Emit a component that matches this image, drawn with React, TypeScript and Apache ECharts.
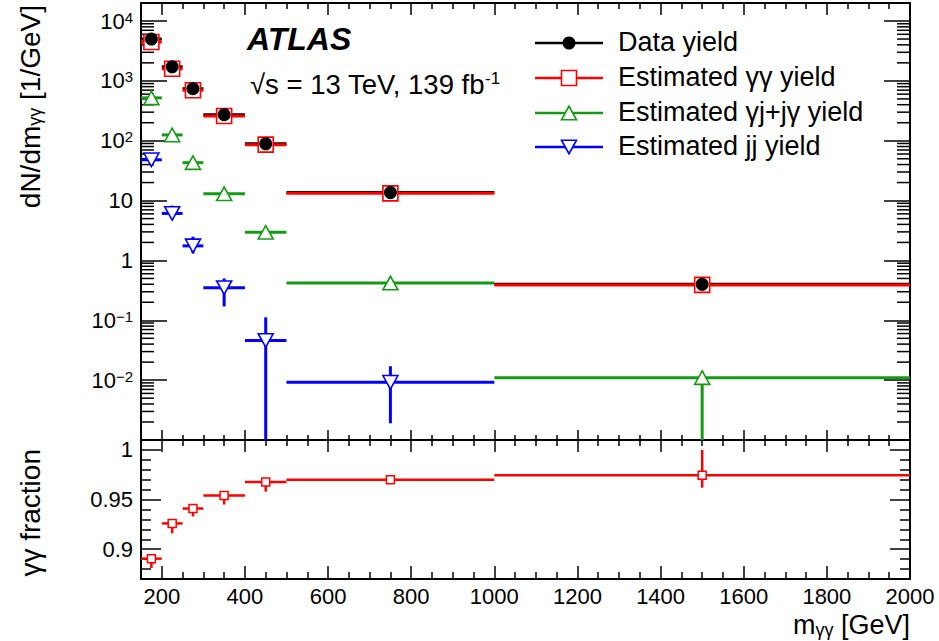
import React, { useEffect, useRef } from "react";
import * as echarts from "echarts";

const FONT = "'Liberation Sans', Arial, Helvetica, sans-serif";

// ---- bins (m_gg in GeV) ----
const binLow = [150, 200, 250, 300, 400, 500, 1000];
const binHigh = [200, 250, 300, 400, 500, 1000, 2000];
const binCenter = [175, 225, 275, 350, 450, 750, 1500];

// ---- yields (1/GeV) ----
const dataYield = [5000, 1720, 740, 272, 89, 13.6, 0.4];
const dataErr = [25, 14, 8, 3, 1.3, 0.2, 0.02];

const ggYield = [4450, 1590, 697, 259, 86, 13.2, 0.39];
const ggErrLow = [60, 30, 14, 6, 2, 0.3, 0.02];
const ggErrHigh = [60, 30, 14, 6, 2, 0.3, 0.02];

const gjYield = [520, 125, 43, 13.0, 2.95, 0.42, 0.011];
const gjErrLow = [20, 8, 3, 1, 0.25, 0.03, 0.011];
const gjErrHigh = [20, 8, 3, 1, 0.25, 0.03, 0.003];

const jjYield = [48, 6.1, 1.75, 0.35, 0.046, 0.0092];
const jjErrLow = [5, 1.2, 0.44, 0.18, 0.046, 0.0073];
const jjErrHigh = [6, 2.15, 0.75, 0.15, 0.066, 0.0079];

// ---- gamma-gamma fraction ----
const fraction = [0.8905, 0.926, 0.941, 0.954, 0.9677, 0.97, 0.9745];
const fracErrLow = [0.0095, 0.01, 0.008, 0.009, 0.0097, 0.002, 0.0125];
const fracErrHigh = [0.004, 0.004, 0.004, 0.003, 0.003, 0.002, 0.0255];

// ---- ticks / labels ----
const xTickValues = [200, 400, 600, 800, 1000, 1200, 1400, 1600, 1800, 2000];
const xTickLabels = ["200", "400", "600", "800", "1000", "1200", "1400", "1600", "1800", "2000"];
const yTickValues = [1e-2, 1e-1, 1, 10, 100, 1000, 10000];
const yTickLabels = ["10{s|\u22122}", "10{s|\u22121}", "1", "10", "10{s|2}", "10{s|3}", "10{s|4}"];
const fracTickValues = [0.9, 0.95, 1];
const fracTickLabels = ["0.9", "0.95", "1"];
const logDecades = [1e-3, 1e-2, 1e-1, 1, 10, 100, 1000, 10000];
const logMinorMult = [2, 3, 4, 5, 6, 7, 8, 9];

const legendNames = ["Data yield", "Estimated \u03b3\u03b3 yield", "Estimated \u03b3j+j\u03b3 yield", "Estimated jj yield"];

const X_MIN = 150, X_MAX = 2000;
const Y_MIN = 1e-3, Y_MAX = 2e4;
const F_MIN = 0.87, F_MAX = 1.01;

const C_DATA = "#000000";
const C_GG = "#ff0000";
const C_GJ = "#169a16";
const C_JJ = "#0000ff";

const TICK_FS = 22;
const TITLE_FS = 28;

function marker(kind: string, cx: number, cy: number, s: number, color: string, lw: number): any {
  if (kind === "circle") {
    return { type: "circle", shape: { cx, cy, r: s / 2 }, style: { fill: color, stroke: color, lineWidth: 0 } };
  }
  if (kind === "square") {
    return { type: "rect", shape: { x: cx - s / 2, y: cy - s / 2, width: s, height: s }, style: { fill: "#fff", stroke: color, lineWidth: lw } };
  }
  const h = s * 0.9;
  if (kind === "triUp") {
    return { type: "polygon", shape: { points: [[cx, cy - h / 2], [cx - s / 2, cy + h / 2], [cx + s / 2, cy + h / 2]] }, style: { fill: "#fff", stroke: color, lineWidth: lw } };
  }
  return { type: "polygon", shape: { points: [[cx - s / 2, cy - h / 2], [cx + s / 2, cy - h / 2], [cx, cy + h / 2]] }, style: { fill: "#fff", stroke: color, lineWidth: lw } };
}

function errSeries(
  id: string, kind: string, color: string, values: number[], eLo: number[], eHi: number[],
  xIdx: number, yIdx: number, floor: number, part: string, size: number, lw: number, mlw: number
): any {
  const data = values.map((v, i) => [binCenter[i], v, binLow[i], binHigh[i], v - eLo[i], v + eHi[i]]);
  return {
    type: "custom",
    id,
    xAxisIndex: xIdx,
    yAxisIndex: yIdx,
    silent: true,
    encode: { x: 0, y: 1 },
    data,
    renderItem: (params: any, api: any) => {
      const cs = params.coordSys;
      const xc = api.value(0) as number;
      const v = api.value(1) as number;
      const p = api.coord([xc, v]);
      if (part === "marks") return marker(kind, p[0], p[1], size, color, mlw);
      const xl = api.coord([api.value(2), v])[0];
      const xh = api.coord([api.value(3), v])[0];
      const lo = api.value(4) as number;
      const hi = api.value(5) as number;
      const bottom = cs.y + cs.height;
      const yLo = lo > floor ? Math.min(api.coord([xc, lo])[1], bottom) : bottom;
      const yHi = Math.max(api.coord([xc, hi])[1], cs.y);
      return {
        type: "group",
        children: [
          { type: "line", shape: { x1: xl, y1: p[1], x2: xh, y2: p[1] }, style: { stroke: color, lineWidth: lw } },
          { type: "line", shape: { x1: p[0], y1: yHi, x2: p[0], y2: yLo }, style: { stroke: color, lineWidth: lw } },
        ],
      };
    },
  };
}

function xAxisCfg(grid: number, pos: string, major: number, minor: number, labels: boolean): any {
  return {
    type: "value",
    gridIndex: grid,
    position: pos,
    min: X_MIN,
    max: X_MAX,
    splitNumber: 9,
    axisLine: { show: true, onZero: false, lineStyle: { color: "#000", width: 2 } },
    axisTick: { show: true, inside: true, length: major, lineStyle: { color: "#000", width: 1.5 } },
    minorTick: { show: true, splitNumber: 4, length: minor, lineStyle: { color: "#000", width: 1.5 } },
    splitLine: { show: false },
    axisLabel: {
      show: labels,
      margin: 6,
      color: "#000",
      fontSize: TICK_FS,
      fontFamily: FONT,
      formatter: (v: number) => {
        const i = xTickValues.findIndex((t) => Math.abs(t - v) < 1e-6);
        return i >= 0 ? xTickLabels[i] : "";
      },
    },
  };
}

function logYCfg(pos: string, labels: boolean): any {
  return {
    type: "log",
    logBase: 10,
    gridIndex: 0,
    position: pos,
    min: Y_MIN,
    max: Y_MAX,
    axisLine: { show: true, onZero: false, lineStyle: { color: "#000", width: 2 } },
    axisTick: { show: true, inside: true, length: 26, lineStyle: { color: "#000", width: 1.5 } },
    splitLine: { show: false },
    axisLabel: {
      show: labels,
      margin: 8,
      color: "#000",
      fontSize: TICK_FS,
      fontFamily: FONT,
      formatter: (v: number) => {
        const i = yTickValues.findIndex((t) => Math.abs(v / t - 1) < 1e-6);
        return i >= 0 ? yTickLabels[i] : "";
      },
      rich: {
        s: { fontSize: 15, fontFamily: FONT, color: "#000", verticalAlign: "top", padding: [0, 0, 8, 0] },
      },
    },
  };
}

function fracYCfg(pos: string, labels: boolean): any {
  return {
    type: "value",
    gridIndex: 1,
    position: pos,
    min: F_MIN,
    max: F_MAX,
    splitNumber: 3,
    axisLine: { show: true, onZero: false, lineStyle: { color: "#000", width: 2 } },
    axisTick: { show: true, inside: true, length: 20, lineStyle: { color: "#000", width: 1.5 } },
    minorTick: { show: true, splitNumber: 5, length: 10, lineStyle: { color: "#000", width: 1.5 } },
    splitLine: { show: false },
    axisLabel: {
      show: labels,
      margin: 8,
      color: "#000",
      fontSize: TICK_FS,
      fontFamily: FONT,
      formatter: (v: number) => {
        const i = fracTickValues.findIndex((t) => Math.abs(t - v) < 1e-6);
        return i >= 0 ? fracTickLabels[i] : "";
      },
    },
  };
}

export default function App() {
  const ref = useRef<HTMLDivElement>(null);

  useEffect(() => {
    if (!ref.current) return;
    const chart = echarts.init(ref.current, undefined, { renderer: "svg" });

    const minorVals: number[] = [];
    logDecades.forEach((d) => logMinorMult.forEach((m) => {
      const v = m * d;
      if (v > Y_MIN && v < Y_MAX) minorVals.push(v);
    }));

    const minorTickSeries = {
      type: "custom",
      id: "logMinor",
      xAxisIndex: 0,
      yAxisIndex: 0,
      silent: true,
      encode: { x: 0, y: 1 },
      data: minorVals.map((v) => [X_MIN, v]),
      renderItem: (params: any, api: any) => {
        const cs = params.coordSys;
        const y = api.coord([X_MIN, api.value(1)])[1];
        return {
          type: "group",
          children: [
            { type: "line", shape: { x1: cs.x, y1: y, x2: cs.x + 13, y2: y }, style: { stroke: "#000", lineWidth: 1.5 } },
            { type: "line", shape: { x1: cs.x + cs.width - 13, y1: y, x2: cs.x + cs.width, y2: y }, style: { stroke: "#000", lineWidth: 1.5 } },
          ],
        };
      },
    };

    // legend drawn as graphic
    const legRowsY = [43, 78, 113, 147];
    const legColors = [C_DATA, C_GG, C_GJ, C_JJ];
    const legKinds = ["circle", "square", "triUp", "triDown"];
    const legSizes = [13, 15, 15, 15];
    const legendChildren: any[] = [];
    legendNames.forEach((name, i) => {
      const y = legRowsY[i];
      legendChildren.push({ type: "line", shape: { x1: 535, y1: y, x2: 603, y2: y }, style: { stroke: legColors[i], lineWidth: 2.5 } });
      legendChildren.push(marker(legKinds[i], 569, y, legSizes[i], legColors[i], 1.6));
      legendChildren.push({
        type: "text", x: 618, y: y - 1,
        style: { text: name, fontSize: 27, fontFamily: FONT, fill: "#000", align: "left", verticalAlign: "middle" },
      });
    });

    const option: any = {
      animation: false,
      backgroundColor: "#fff",
      grid: [
        { left: 141, top: 3, width: 769, height: 437, containLabel: false },
        { left: 141, top: 440, width: 769, height: 139, containLabel: false },
      ],
      xAxis: [
        xAxisCfg(0, "bottom", 10, 5, false),
        xAxisCfg(0, "top", 12, 6, false),
        xAxisCfg(1, "bottom", 13, 7, true),
        xAxisCfg(1, "top", 12, 6, false),
      ],
      yAxis: [logYCfg("left", true), logYCfg("right", false), fracYCfg("left", true), fracYCfg("right", false)],
      series: [
        minorTickSeries,
        errSeries("gjBars", "triUp", C_GJ, gjYield, gjErrLow, gjErrHigh, 0, 0, Y_MIN, "bars", 15, 3, 1.6),
        errSeries("gjMarks", "triUp", C_GJ, gjYield, gjErrLow, gjErrHigh, 0, 0, Y_MIN, "marks", 15, 3, 1.6),
        errSeries("jjBars", "triDown", C_JJ, jjYield, jjErrLow, jjErrHigh, 0, 0, Y_MIN, "bars", 15, 3, 1.6),
        errSeries("jjMarks", "triDown", C_JJ, jjYield, jjErrLow, jjErrHigh, 0, 0, Y_MIN, "marks", 15, 3, 1.6),
        errSeries("dataBars", "circle", C_DATA, dataYield, dataErr, dataErr, 0, 0, Y_MIN, "bars", 13, 3, 1.6),
        errSeries("ggBars", "square", C_GG, ggYield, ggErrLow, ggErrHigh, 0, 0, Y_MIN, "bars", 15, 3, 1.6),
        errSeries("ggMarks", "square", C_GG, ggYield, ggErrLow, ggErrHigh, 0, 0, Y_MIN, "marks", 15, 3, 1.6),
        errSeries("dataMarks", "circle", C_DATA, dataYield, dataErr, dataErr, 0, 0, Y_MIN, "marks", 13, 3, 1.6),
        errSeries("fracBars", "square", C_GG, fraction, fracErrLow, fracErrHigh, 2, 2, F_MIN, "bars", 8, 2.5, 1.5),
        errSeries("fracMarks", "square", C_GG, fraction, fracErrLow, fracErrHigh, 2, 2, F_MIN, "marks", 8, 2.5, 1.5),
      ],
      graphic: [
        {
          type: "text", x: 247, y: 39,
          style: { text: "ATLAS", fontSize: 32, fontWeight: "bold", fontStyle: "italic", fontFamily: FONT, fill: "#000", align: "left", verticalAlign: "middle" },
        },
        {
          type: "text", x: 250, y: 84,
          style: {
            text: "\u221as = 13 TeV, 139 fb{sup|-1}",
            fontSize: 27.5, fontFamily: FONT, fill: "#000", align: "left", verticalAlign: "middle",
            rich: { sup: { fontSize: 17, fontFamily: FONT, fill: "#000", verticalAlign: "top", padding: [0, 0, 10, 0] } },
          },
        },
        {
          type: "text", x: 30, y: 5, rotation: Math.PI / 2,
          style: {
            text: "dN/dm{sub|\u03b3\u03b3} [1/GeV]",
            fontSize: TITLE_FS, fontFamily: FONT, fill: "#000", align: "right", verticalAlign: "middle",
            rich: { sub: { fontSize: 18, fontFamily: FONT, fill: "#000", verticalAlign: "bottom", padding: [10, 0, 0, 0] } },
          },
        },
        {
          type: "text", x: 30, y: 449, rotation: Math.PI / 2,
          style: { text: "\u03b3\u03b3 fraction", fontSize: TITLE_FS, fontFamily: FONT, fill: "#000", align: "right", verticalAlign: "middle" },
        },
        {
          type: "text", x: 910, y: 625,
          style: {
            text: "m{sub|\u03b3\u03b3} [GeV]",
            fontSize: 27, fontFamily: FONT, fill: "#000", align: "right", verticalAlign: "middle",
            rich: { sub: { fontSize: 18, fontFamily: FONT, fill: "#000", verticalAlign: "bottom", padding: [8, 0, 0, 0] } },
          },
        },
        { type: "group", children: legendChildren },
      ],
    };

    chart.setOption(option);
    return () => chart.dispose();
  }, []);

  return <div ref={ref} style={{ position: "fixed", left: 0, top: 0, width: 939, height: 641, background: "#fff" }} />;
}
